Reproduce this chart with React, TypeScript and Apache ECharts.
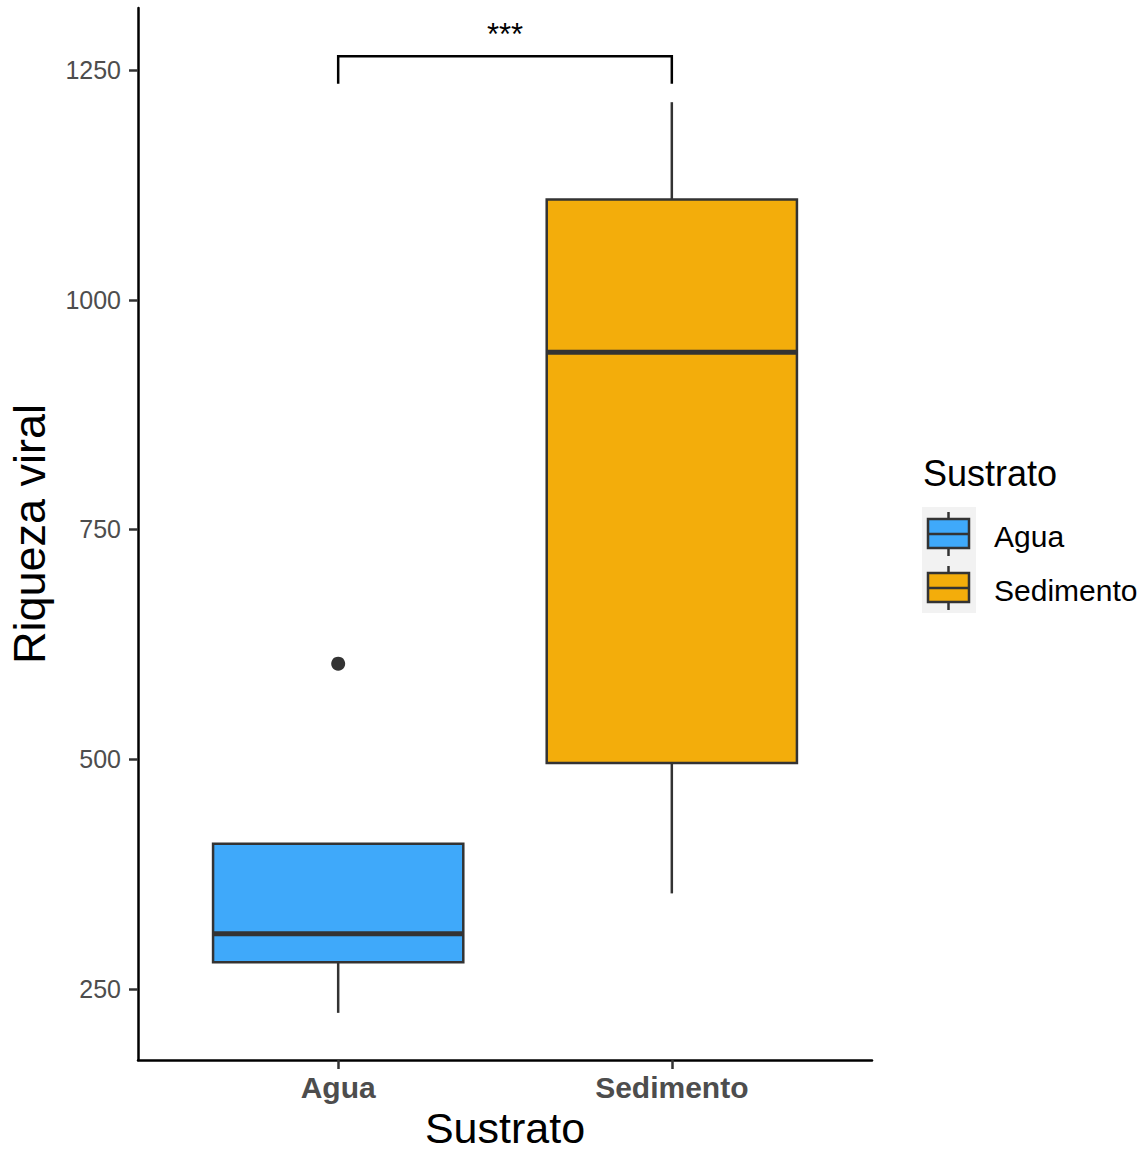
import React, { useEffect, useRef } from "react";
import * as echarts from "echarts";

const categories = ["Agua", "Sedimento"];
const whiskerLow = [224, 354];
const q1 = [279, 496];
const median = [310, 943];
const q3 = [408, 1109];
const whiskerHigh = [408, 1215];
const outliers: number[][] = [[0, 604]];
const fillColors = ["#3FA9FA", "#F3AD0B"];
const yTicks = [250, 500, 750, 1000, 1250];
const bracketRow = [0, 1, 1265, 1235];
const bracketLabel = "***";

const FONT = "Liberation Sans, Arial, Helvetica, sans-serif";
const STROKE = "#333333";

export default function App() {
  const ref = useRef<HTMLDivElement>(null);
  useEffect(() => {
    if (!ref.current) return;
    const chart = echarts.init(ref.current, undefined, { renderer: "svg" });
    const boxData = categories.map((_, i) => [i, whiskerLow[i], q1[i], median[i], q3[i], whiskerHigh[i]]);

    const legendItems = categories.map((c, i) => {
      const top = 519 + i * 54;
      return {
        type: "group",
        children: [
          { type: "line", shape: { x1: 948.5, y1: top - 7, x2: 948.5, y2: top + 37 }, style: { stroke: STROKE, lineWidth: 2.5 } },
          { type: "rect", shape: { x: 928, y: top, width: 41, height: 29 }, style: { fill: fillColors[i], stroke: STROKE, lineWidth: 2.5 } },
          { type: "line", shape: { x1: 928, y1: top + 15, x2: 969, y2: top + 15 }, style: { stroke: STROKE, lineWidth: 2.5 } },
          { type: "text", x: 994, y: top + 17, style: { text: c, font: `30px ${FONT}`, fill: "#000", verticalAlign: "middle", align: "left" } },
        ],
      };
    });

    chart.setOption({
      animation: false,
      backgroundColor: "#ffffff",
      grid: { left: 138, right: 274, top: 8, bottom: 91, containLabel: false, outerBoundsMode: "none" },
      xAxis: {
        type: "value",
        min: -0.6,
        max: 1.6,
        name: "Sustrato",
        nameLocation: "middle",
        nameGap: 43,
        nameTextStyle: { fontFamily: FONT, fontSize: 43, color: "#000", lineHeight: 43 },
        axisLine: { show: true, onZero: false, lineStyle: { color: "#000", width: 2.5 } },
        axisTick: { show: true, customValues: [0, 1], length: 9, lineStyle: { color: "#333", width: 2.5 } },
        axisLabel: {
          customValues: [0, 1],
          formatter: (v: number) => categories[Math.round(v)] ?? "",
          fontFamily: FONT,
          fontSize: 30,
          fontWeight: "bold",
          color: "#4d4d4d",
          margin: 12,
        },
        splitLine: { show: false },
      },
      yAxis: {
        type: "value",
        min: 172.7,
        max: 1317.5,
        name: "Riqueza viral",
        nameLocation: "middle",
        nameGap: 86,
        nameRotate: 90,
        nameTextStyle: { fontFamily: FONT, fontSize: 45, color: "#000" },
        axisLine: { show: true, onZero: false, lineStyle: { color: "#000", width: 2.5 } },
        axisTick: { show: true, customValues: yTicks, length: 9, lineStyle: { color: "#333", width: 2.5 } },
        axisLabel: {
          customValues: yTicks,
          formatter: (v: number) => String(v),
          fontFamily: FONT,
          fontSize: 25,
          color: "#4d4d4d",
          margin: 17,
        },
        splitLine: { show: false },
      },
      series: [
        {
          type: "custom",
          name: "boxes",
          data: boxData,
          encode: { x: 0, y: [1, 2, 3, 4, 5] },
          renderItem: (params: any, api: any) => {
            const i = api.value(0);
            const lo = api.coord([i, api.value(1)]);
            const b1 = api.coord([i, api.value(2)]);
            const md = api.coord([i, api.value(3)]);
            const b3 = api.coord([i, api.value(4)]);
            const hi = api.coord([i, api.value(5)]);
            const l = api.coord([i - 0.375, api.value(3)])[0];
            const r = api.coord([i + 0.375, api.value(3)])[0];
            const ln = { stroke: STROKE, lineWidth: 2.5 };
            return {
              type: "group",
              children: [
                { type: "line", shape: { x1: lo[0], y1: lo[1], x2: b1[0], y2: b1[1] }, style: ln },
                { type: "line", shape: { x1: b3[0], y1: b3[1], x2: hi[0], y2: hi[1] }, style: ln },
                { type: "rect", shape: { x: l, y: b3[1], width: r - l, height: b1[1] - b3[1] }, style: { fill: fillColors[params.dataIndex], stroke: STROKE, lineWidth: 2.5 } },
                { type: "line", shape: { x1: l, y1: md[1], x2: r, y2: md[1] }, style: { stroke: STROKE, lineWidth: 5 } },
              ],
            };
          },
        },
        {
          type: "scatter",
          name: "outliers",
          data: outliers,
          symbol: "circle",
          symbolSize: 14,
          itemStyle: { color: STROKE, opacity: 1 },
        },
        {
          type: "custom",
          name: "bracket",
          data: [bracketRow],
          encode: { x: [0, 1], y: [2, 3] },
          renderItem: (params: any, api: any) => {
            const a = api.coord([api.value(0), api.value(3)]);
            const b = api.coord([api.value(0), api.value(2)]);
            const c = api.coord([api.value(1), api.value(2)]);
            const d = api.coord([api.value(1), api.value(3)]);
            return {
              type: "group",
              children: [
                { type: "polyline", shape: { points: [a, b, c, d] }, style: { stroke: "#000", lineWidth: 2.5, fill: "none" } },
                { type: "text", x: (b[0] + c[0]) / 2, y: b[1] - 22, style: { text: bracketLabel, font: `31px ${FONT}`, fill: "#000", align: "center", verticalAlign: "middle" } },
              ],
            };
          },
        },
      ],
      graphic: [
        { type: "text", left: 923, top: 455, style: { text: "Sustrato", font: `36px ${FONT}`, fill: "#000" } },
        { type: "rect", shape: { x: 922, y: 507, width: 54, height: 106 }, style: { fill: "#f2f2f2" } },
        ...legendItems,
      ],
    });
    return () => chart.dispose();
  }, []);
  return <div ref={ref} style={{ position: "absolute", left: 0, top: 0, width: 1146, height: 1151 }} />;
}
